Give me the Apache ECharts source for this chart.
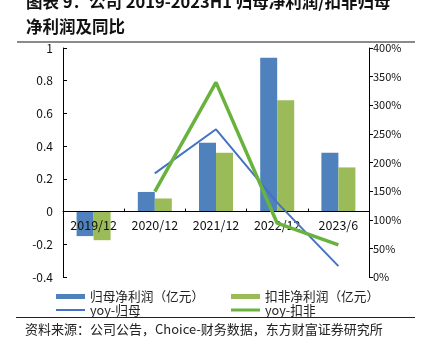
<!DOCTYPE html>
<html><head><meta charset="utf-8">
<script src="https://cdn.jsdelivr.net/npm/echarts@6/dist/echarts.min.js"></script>
<style>html,body{margin:0;padding:0;background:#fff}#c{width:427px;height:358px}</style>
</head><body><div id="c"></div>
<script>
var categories = ['2019/12','2020/12','2021/12','2022/12','2023/6'];
var netProfit = [-0.15, 0.12, 0.42, 0.94, 0.36];
var deductedProfit = [-0.175, 0.08, 0.36, 0.68, 0.27];
var yoyNet = [null, 181, 258, 130, 19];
var yoyDeducted = [null, 149, 340, 94, 56];
var names = ['归母净利润（亿元）','扣非净利润（亿元）','yoy-归母','yoy-扣非'];
var leftTicks = {min:-0.4, max:1, interval:0.2};
var rightTicks = {min:0, max:400, interval:50};

var H = 358, gridTop = 48, gridBottom = 81;
var gridH = H - gridTop - gridBottom;
var zeroOffset = -gridH * (0 - leftTicks.min) / (leftTicks.max - leftTicks.min);

var chart = echarts.init(document.getElementById('c'), null, {renderer:'canvas'});
var font = '"Noto Sans CJK SC", "DejaVu Sans", sans-serif';
var legTxt = {fontSize:12.7, color:'#222', lineHeight:14, fontFamily:font};
function leg(name, left, top, h){
  return {data:[{name:name, icon:'rect'}], left:left, top:top, padding:0, itemWidth:29, itemHeight:h, textStyle:legTxt, selectedMode:false};
}
chart.setOption({
  animation:false,
  textStyle:{fontFamily:font},
  title:{text:'图表 9：公司 2019-2023H1 归母净利润/扣非归母\n净利润及同比', left:26, top:-11, padding:0,
    textStyle:{fontSize:16.5, fontWeight:'bold', color:'#111', lineHeight:25, fontFamily:font}},
  graphic:[
    {type:'line', shape:{x1:17,y1:42,x2:415,y2:42}, style:{stroke:'#8a8a8a', lineWidth:2}},
    {type:'line', shape:{x1:16,y1:317.5,x2:415,y2:317.5}, style:{stroke:'#222', lineWidth:1}},
    {type:'text', left:25, top:323, style:{text:'资料来源：公司公告，Choice-财务数据，东方财富证券研究所', fontSize:13, fill:'#222', fontFamily:font}}
  ],
  grid:{left:63, right:58, top:gridTop, bottom:gridBottom},
  legend:[
    leg(names[0], 56, 289.5, 5),
    leg(names[1], 231, 289.5, 5),
    leg(names[2], 56, 303, 2),
    leg(names[3], 231, 303, 3)
  ],
  xAxis:{type:'category', data:categories, offset:zeroOffset, z:5,
    axisLine:{onZero:false, lineStyle:{color:'#000', width:1}},
    axisTick:{show:true, inside:true, length:3, lineStyle:{color:'#000'}},
    axisLabel:{color:'#111', fontSize:12.5, margin:7}},
  yAxis:[
    {type:'value', min:leftTicks.min, max:leftTicks.max, interval:leftTicks.interval, splitLine:{show:false},
     axisLine:{show:true, lineStyle:{color:'#000'}},
     axisTick:{show:true, inside:true, length:4, lineStyle:{color:'#000'}},
     axisLabel:{color:'#111', fontSize:12, margin:10, formatter:function(v){return (Math.round(v*10)/10).toString();}}},
    {type:'value', min:rightTicks.min, max:rightTicks.max, interval:rightTicks.interval, splitLine:{show:false}, position:'right',
     axisLine:{show:true, lineStyle:{color:'#000'}},
     axisTick:{show:true, inside:false, length:4, lineStyle:{color:'#000'}},
     axisLabel:{color:'#111', fontSize:11, margin:4, formatter:'{value}%'}}
  ],
  series:[
    {name:names[0], type:'bar', data:netProfit, barWidth:17, barGap:'0%', itemStyle:{color:'#4F81BD'}},
    {name:names[1], type:'bar', data:deductedProfit, barWidth:17, barGap:'0%', itemStyle:{color:'#9BBB59'}},
    {name:names[2], type:'line', yAxisIndex:1, z:6, data:yoyNet, showSymbol:false, symbol:'none', lineStyle:{color:'#4472C4', width:2}, itemStyle:{color:'#4472C4'}},
    {name:names[3], type:'line', yAxisIndex:1, z:7, data:yoyDeducted, showSymbol:false, symbol:'none', lineStyle:{color:'#6AB23E', width:3.5}, itemStyle:{color:'#6AB23E'}}
  ]
});
</script></body></html>
